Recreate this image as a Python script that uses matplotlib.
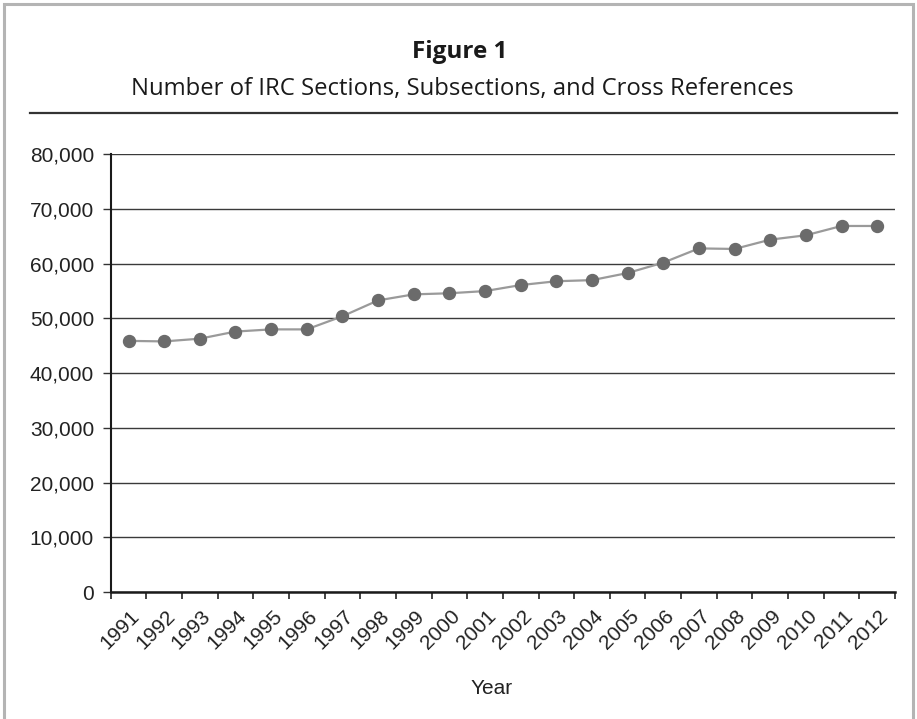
import matplotlib
matplotlib.use('Agg')
import matplotlib.pyplot as plt
import matplotlib.patches as mpatches
import matplotlib.transforms as mtransforms
import numpy as np
from matplotlib.ticker import FuncFormatter

# data
years = ['1991', '1992', '1993', '1994', '1995', '1996', '1997', '1998', '1999', '2000', '2001',
         '2002', '2003', '2004', '2005', '2006', '2007', '2008', '2009', '2010', '2011', '2012']
counts = [45900, 45800, 46300, 47600, 48000, 48000, 50400, 53300, 54400, 54600, 55000,
          56100, 56800, 57000, 58300, 60200, 62800, 62700, 64400, 65200, 66900, 66900]
y_ticks = [0, 10000, 20000, 30000, 40000, 50000, 60000, 70000, 80000]

title_main = 'Figure 1'
title_sub = 'Number of IRC Sections, Subsections, and Cross References'
x_label = 'Year'

W, H = 917, 719
fig = plt.figure(figsize=(W / 100, H / 100), dpi=100)
fig.patch.set_facecolor('white')

# gray outer frame
fig.add_artist(mpatches.Rectangle((4 / W, -0.01), (W - 8.5) / W, 1 - 4 / H + 0.01,
                                  transform=fig.transFigure, fill=False,
                                  edgecolor='#b4b4b4', linewidth=2.2))

# titles and rule
fig.text(460 / W, 1 - 52 / H, title_main, ha='center', va='center',
         fontsize=17.5, fontweight='bold', family='Open Sans', color='#1a1a1a')
fig.text(462 / W, 1 - 89 / H, title_sub, ha='center', va='center',
         fontsize=17.2, family='Open Sans', color='#1a1a1a')
fig.add_artist(plt.Line2D([30 / W, 897 / W], [1 - 113 / H] * 2, transform=fig.transFigure,
                          color='#333333', linewidth=1.6))

left, right = 110.7 / W, 895 / W
bottom, top = 1 - 592 / H, 1 - 154.3 / H
ax = fig.add_axes([left, bottom, right - left, top - bottom])

x = np.arange(len(years))
ax.plot(x, counts, color='#9a9a9a', linewidth=1.6, zorder=3)
ax.plot(x, counts, linestyle='none', marker='o', markersize=8.6,
        markerfacecolor='#6b6b6b', markeredgecolor='#6b6b6b', zorder=4)

ax.set_xlim(-0.5, len(years) - 0.5)
ax.set_ylim(0, 80000)

ax.set_yticks(y_ticks)
ax.yaxis.set_major_formatter(FuncFormatter(lambda v, p: f'{int(v):,}'))
ax.yaxis.grid(True, color='#3a3a3a', linewidth=1.0)
ax.set_axisbelow(True)

ax.set_xticks(x)
ax.set_xticks(np.arange(-0.5, len(years), 1), minor=True)
ax.set_xticklabels(years, rotation=45, ha='right', va='center', rotation_mode='anchor')
ax.tick_params(axis='x', which='major', length=0, pad=15, labelsize=15)
ax.tick_params(axis='x', which='minor', length=5, width=1.2, color='#222222', direction='out')
ax.tick_params(axis='y', length=6, width=1.0, color='#333333', pad=6, labelsize=15)

offset = mtransforms.ScaledTranslation(8 / 100, 0, fig.dpi_scale_trans)
for lbl in ax.get_xticklabels():
    lbl.set_transform(lbl.get_transform() + offset)

for lbl in ax.get_xticklabels() + ax.get_yticklabels():
    lbl.set_family('Liberation Sans')
    lbl.set_color('#222222')

for s in ['top', 'right']:
    ax.spines[s].set_visible(False)
ax.spines['left'].set_color('#1a1a1a')
ax.spines['left'].set_linewidth(1.5)
ax.spines['bottom'].set_color('#1a1a1a')
ax.spines['bottom'].set_linewidth(1.8)
ax.spines['bottom'].set_zorder(5)

ax.set_xlabel(x_label, fontsize=15, family='Liberation Sans', color='#222222')
ax.xaxis.set_label_coords((492 - 110.7) / (895 - 110.7), -(679 - 592) / (592 - 154.3))

fig.savefig('out.png', dpi=100, facecolor='white')
